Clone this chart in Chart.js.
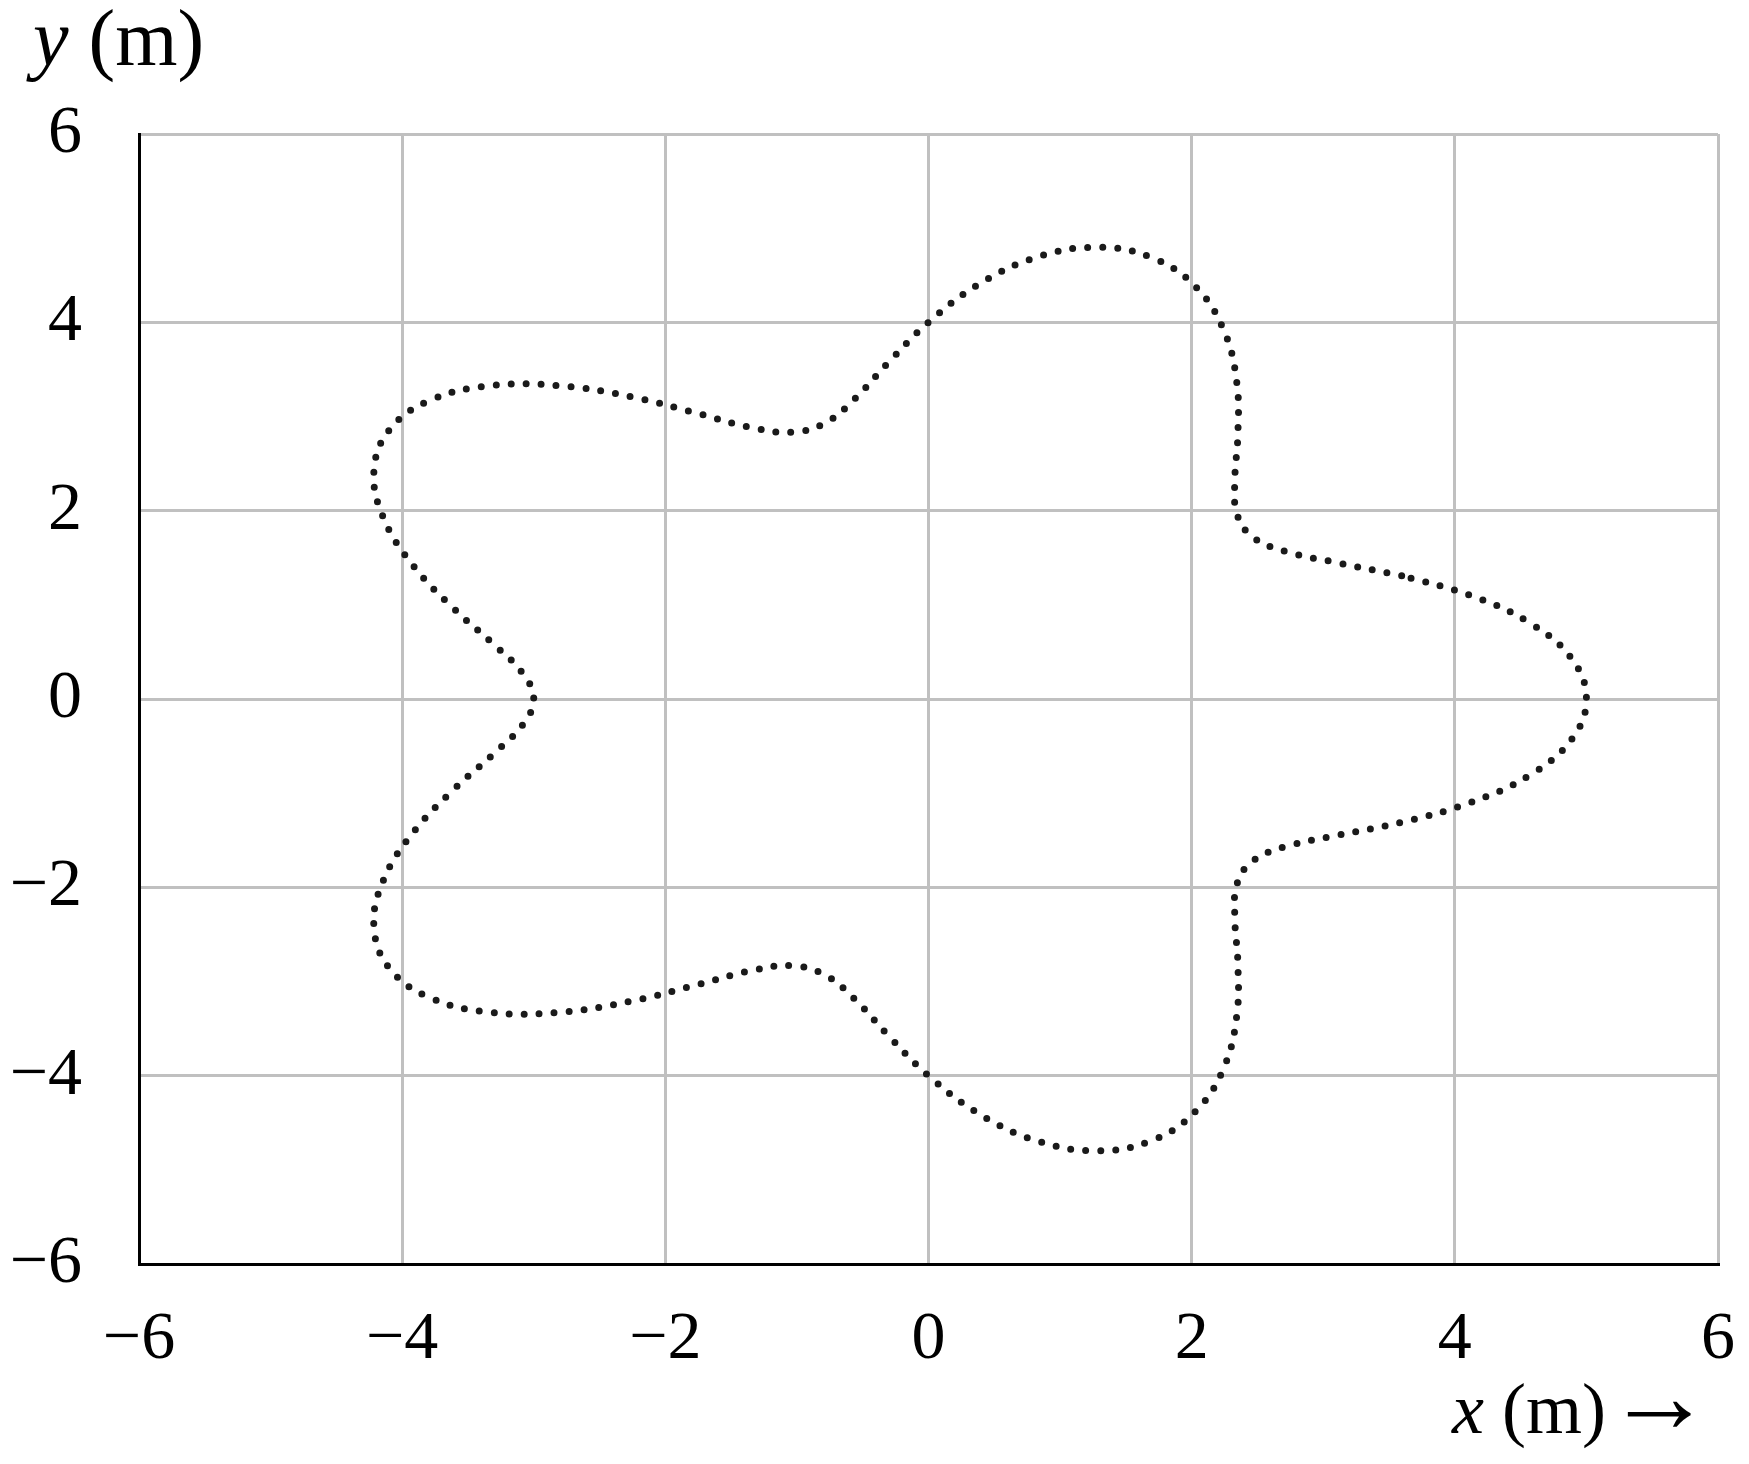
<!DOCTYPE html>
<html>
<head>
<meta charset="utf-8">
<script src="https://cdn.jsdelivr.net/npm/chart.js@4/dist/chart.umd.min.js"></script>
<style>
  html, body { margin: 0; padding: 0; background: #ffffff; }
  #wrap { width: 1749px; height: 1464px; position: relative; }
</style>
</head>
<body>
<div id="wrap"><canvas id="c" width="1749" height="1464"></canvas></div>
<script>
// Path positions (metres)
const pathX = [3.596, 3.105, 2.714, 2.461, 2.344, 2.328, 2.351, 2.344, 2.250, 2.037, 1.705, 1.285, 0.828, 0.385, 0, -0.312, -0.562, -0.785, -1.031, -1.344, -1.750, -2.244, -2.791, -3.328, -3.784, -4.093, -4.214, -4.145, -3.922, -3.614, -3.306, -3.082, -3,
  -3.082, -3.306, -3.614, -3.922, -4.145, -4.214, -4.093, -3.784, -3.328, -2.791, -2.244, -1.750, -1.344, -1.031, -0.785, -0.562, -0.312, 0, 0.385, 0.828, 1.285, 1.705, 2.037, 2.250, 2.344, 2.351, 2.328, 2.344, 2.461, 2.714, 3.105, 3.596, 4.114, 4.572, 4.888, 5,
  4.888, 4.572, 4.114, 3.596];
const pathY = [1.309, 1.448, 1.567, 1.723, 1.967, 2.328, 2.802, 3.348, 3.897, 4.368, 4.684, 4.797, 4.694, 4.406, 4, 3.564, 3.185, 2.931, 2.833, 2.883, 3.031, 3.205, 3.326, 3.328, 3.175, 2.866, 2.433, 1.933, 1.427, 0.968, 0.583, 0.270, 0,
  -0.270, -0.583, -0.968, -1.427, -1.933, -2.433, -2.866, -3.175, -3.328, -3.326, -3.205, -3.031, -2.883, -2.833, -2.931, -3.185, -3.564, -4, -4.406, -4.694, -4.797, -4.684, -4.368, -3.897, -3.348, -2.802, -2.328, -1.967, -1.723, -1.567, -1.448, -1.309, -1.102, -0.806, -0.428, 0,
  0.428, 0.806, 1.102, 1.309];

const tickValues = [-6, -4, -2, 0, 2, 4, 6];
const xTickLabels = ['\u22126', '\u22124', '\u22122', '0', '2', '4', '6'];
const yTickLabels = ['\u22126', '\u22124', '\u22122', '0', '2', '4', '6'];

const points = pathX.map((x, i) => ({ x: x, y: pathY[i] }));

const SERIF = '"Liberation Serif", "Times New Roman", serif';
const TICK_FONT = { family: SERIF, size: 68 };

function labelFor(arr) {
  return function (v) {
    const i = tickValues.indexOf(v);
    return i >= 0 ? arr[i] : '';
  };
}

const titlePlugin = {
  id: 'titles',
  afterDraw(chart) {
    const ctx = chart.ctx;
    ctx.save();
    ctx.fillStyle = '#000';
    ctx.textBaseline = 'alphabetic';
    ctx.textAlign = 'left';
    // y title
    let x = 33, y = 65;
    ctx.font = 'italic 80px ' + SERIF;
    ctx.fillText('y', x, y);
    x += ctx.measureText('y').width;
    ctx.font = '80px ' + SERIF;
    ctx.fillText(' (m)', x, y);
    // x title
    x = 1452; y = 1433;
    ctx.font = 'italic 72px ' + SERIF;
    ctx.fillText('x', x, y);
    x += ctx.measureText('x').width;
    ctx.font = '72px ' + SERIF;
    ctx.fillText(' (m)', x, y);
    // arrow
    ctx.textAlign = 'right';
    ctx.font = '106px ' + SERIF;
    ctx.fillText('\u2192', 1712, 1432);
    ctx.restore();
  }
};

new Chart(document.getElementById('c'), {
  type: 'scatter',
  data: {
    datasets: [{
      data: points,
      showLine: true,
      pointRadius: 0,
      pointHoverRadius: 0,
      borderColor: '#1a1a1a',
      borderWidth: 7,
      borderDash: [0, 15],
      borderCapStyle: 'round',
      tension: 0.4,
      fill: false
    }]
  },
  options: {
    responsive: false,
    animation: false,
    events: [],
    layout: { padding: { left: 0, top: 134, right: 31, bottom: 0 } },
    plugins: { legend: { display: false }, tooltip: { enabled: false } },
    scales: {
      x: {
        type: 'linear',
        min: -6, max: 6,
        afterBuildTicks(scale) { scale.ticks = tickValues.map(v => ({ value: v })); },
        afterFit(scale) { scale.height = 200; scale.paddingLeft = 0; scale.paddingRight = 0; },
        ticks: { callback: labelFor(xTickLabels), font: TICK_FONT, color: '#000', padding: 35, maxRotation: 0, autoSkip: false },
        grid: { color: '#c0c0c0', lineWidth: 3, drawTicks: false },
        border: { color: '#000', width: 3 }
      },
      y: {
        type: 'linear',
        min: -6, max: 6,
        afterBuildTicks(scale) { scale.ticks = tickValues.map(v => ({ value: v })); },
        afterFit(scale) { scale.width = 139; scale.paddingTop = 0; scale.paddingBottom = 0; },
        ticks: { callback: labelFor(yTickLabels), font: TICK_FONT, color: '#000', padding: 57, autoSkip: false },
        grid: { color: '#c0c0c0', lineWidth: 3, drawTicks: false },
        border: { color: '#000', width: 3 }
      }
    }
  },
  plugins: [titlePlugin]
});
</script>
</body>
</html>
